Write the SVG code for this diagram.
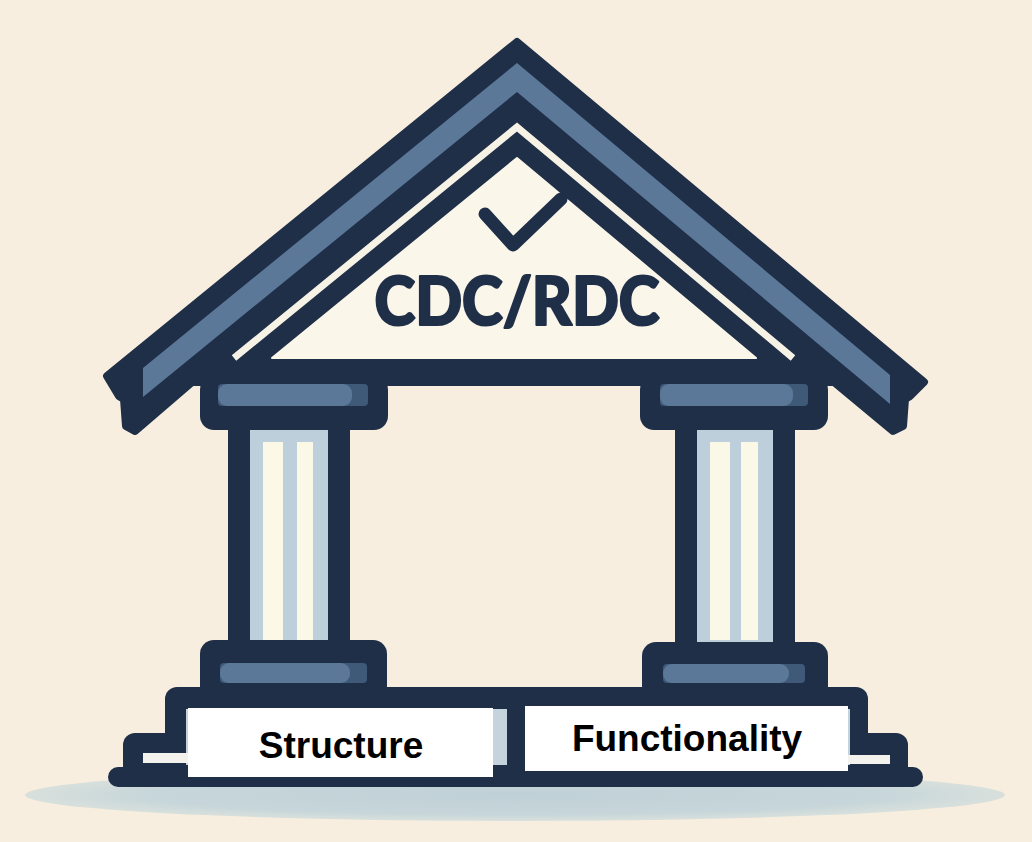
<svg xmlns="http://www.w3.org/2000/svg" width="1032" height="842" viewBox="0 0 1032 842">
  <defs>
    <style>
      .ink{fill:#1f2f48}
      .blue{fill:#5b7899}
      .blue-deep{fill:#3f5979}
      .shaft{fill:#bdcfda}
      .flute{fill:#fcf8e8}
      .strip{fill:#c4d3dc}
      .tread{fill:#f3f2ec}
      .label-box{fill:#ffffff}
      .label{font-family:"Liberation Sans",Arial,sans-serif;font-weight:700;font-size:37px;fill:#000000;text-anchor:middle}
      .title{font-family:Lato,"Noto Sans",sans-serif;font-weight:900;font-size:66px;fill:#1f2f48;stroke:#1f2f48;stroke-width:2.2;stroke-linejoin:round;text-anchor:middle}
    </style>
    <radialGradient id="shadowGrad" cx="0.5" cy="0.5" r="0.5">
      <stop offset="0" stop-color="#bfd0d7"/>
      <stop offset="0.75" stop-color="#c7d6da"/>
      <stop offset="1" stop-color="#d8e0dc"/>
    </radialGradient>
  </defs>

  <!-- paper -->
  <rect width="1032" height="842" fill="#f8eedf"/>

  <!-- ground shadow -->
  <g id="shadow">
    <ellipse cx="515" cy="795" rx="490" ry="26" fill="url(#shadowGrad)"/>
  </g>

  <!-- roof with eaves and beam -->
  <g id="roof">
    <path class="ink" stroke="#1f2f48" stroke-width="8" stroke-linejoin="round"
          d="M107 376 L517 42 L924 382 L910 396 L905 399 L903 426 L893 431 L834 382 L192 382 L135 431 L126 426 L124 399 L119 396 Z"/>
    <polygon class="blue" points="143,368 517,63 890,375 890,404 517,92 143,397"/>
    <polyline points="234,358 517,127 793,358" fill="none" stroke="#f7f2e6" stroke-width="7"/>
  </g>

  <!-- pediment with check mark and title -->
  <g id="pediment">
    <polygon points="272,358 517,158 756,358" fill="#fbf6ea" stroke="#fbf6ea" stroke-width="2" stroke-linejoin="round"/>
    <polyline points="485,214 513,245 561,199" fill="none" stroke="#1f2f48" stroke-width="13" stroke-linecap="round" stroke-linejoin="round"/>
    <text class="title" x="517" y="325" textLength="285" lengthAdjust="spacingAndGlyphs">CDC/RDC</text>
  </g>

  <!-- left column -->
  <g id="column-left">
    <rect class="ink" x="200" y="376" width="188" height="54" rx="14"/>
    <rect class="blue-deep" x="218" y="384" width="150" height="22" rx="4"/>
    <rect class="blue" x="218" y="384" width="134" height="22" rx="9"/>
    <rect class="ink" x="228" y="426" width="122" height="220"/>
    <rect class="shaft" x="250" y="430" width="78" height="212"/>
    <rect class="flute" x="263" y="442" width="20" height="198"/>
    <rect class="flute" x="297" y="442" width="16" height="198"/>
    <rect class="ink" x="200" y="640" width="187" height="60" rx="14"/>
    <rect class="blue-deep" x="220" y="663" width="147" height="20" rx="4"/>
    <rect class="blue" x="220" y="663" width="130" height="20" rx="9"/>
  </g>

  <!-- right column -->
  <g id="column-right">
    <rect class="ink" x="640" y="376" width="188" height="54" rx="14"/>
    <rect class="blue-deep" x="660" y="384" width="148" height="22" rx="4"/>
    <rect class="blue" x="660" y="384" width="133" height="22" rx="9"/>
    <rect class="ink" x="675" y="426" width="120" height="220"/>
    <rect class="shaft" x="697" y="430" width="76" height="212"/>
    <rect class="flute" x="710" y="442" width="20" height="198"/>
    <rect class="flute" x="741" y="442" width="17" height="198"/>
    <rect class="ink" x="642" y="642" width="186" height="58" rx="14"/>
    <rect class="blue-deep" x="663" y="664" width="142" height="19" rx="4"/>
    <rect class="blue" x="663" y="664" width="126" height="19" rx="9"/>
  </g>

  <!-- stepped platform -->
  <g id="base">
    <rect class="ink" x="165" y="687" width="703" height="100" rx="12"/>
    <rect class="ink" x="123" y="733" width="785" height="54" rx="12"/>
    <rect class="ink" x="108" y="767" width="815" height="20" rx="10"/>
    <rect class="strip" x="186" y="709" width="321" height="56"/>
    <rect class="strip" x="525" y="709" width="325" height="56"/>
    <rect class="ink" x="507" y="700" width="18" height="70"/>
    <rect class="tread" x="143" y="753" width="46" height="10"/>
    <rect class="tread" x="848" y="755" width="42" height="9"/>
  </g>

  <g id="label-structure">
    <rect class="label-box" x="188" y="708" width="305" height="69"/>
    <text class="label" x="341" y="758">Structure</text>
  </g>

  <g id="label-functionality">
    <rect class="label-box" x="525" y="706" width="323" height="65"/>
    <text class="label" x="687" y="751">Functionality</text>
  </g>
</svg>
